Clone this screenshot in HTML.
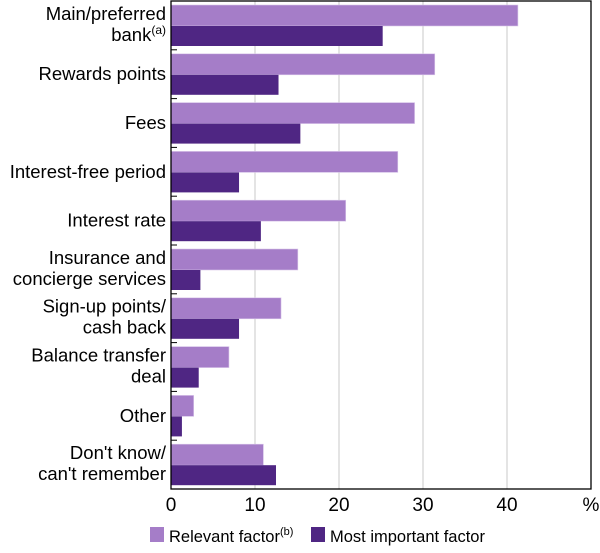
<!DOCTYPE html>
<html><head><meta charset="utf-8"><style>
body{margin:0;background:#fff;width:600px;height:548px;overflow:hidden;font-family:"Liberation Sans",Arial,sans-serif}
svg text{font-family:"Liberation Sans",Arial,sans-serif;fill:#000}
</style></head><body>
<svg id="chart" width="600" height="548"></svg>
<script>
const categories=[["Main/preferred","bank"],["Rewards points"],["Fees"],["Interest-free period"],["Interest rate"],["Insurance and","concierge services"],["Sign-up points/","cash back"],["Balance transfer","deal"],["Other"],["Don't know/","can't remember"]];
const relevant=[41.3,31.4,29.0,27.0,20.8,15.1,13.1,6.9,2.7,11.0];
const mostImportant=[25.2,12.8,15.4,8.1,10.7,3.5,8.1,3.3,1.3,12.5];
const xTicks=[0,10,20,30,40];
const NS="http://www.w3.org/2000/svg";
const svg=document.getElementById('chart');
const L=171,R=591,T=1,B=489,xMax=50;
const x=v=>L+v/xMax*(R-L);
const band=(B-T)/categories.length;
const y=i=>T+i*band;
function mk(tag,attrs){const e=document.createElementNS(NS,tag);for(const k in attrs)e.setAttribute(k,attrs[k]);svg.appendChild(e);return e;}
xTicks.forEach(t=>{if(t>0){const g=mk('line',{x1:x(t),x2:x(t),y1:T,y2:B,stroke:'#c8c8c8','stroke-width':1});

}});
xTicks.forEach(t=>{const tx=mk('text',{x:x(t),y:511,'text-anchor':'middle','font-size':19});tx.textContent=t;

});
const pct=mk('text',{x:R,y:511,'text-anchor':'middle','font-size':19});pct.textContent='%';


categories.forEach((c,i)=>{
 const r1=mk('rect',{x:L,y:y(i)+4,width:x(relevant[i])-L,height:21,fill:'#a57dc8',stroke:'#d9c6ea','stroke-width':0.6});
 
 
 const r2=mk('rect',{x:L,y:y(i)+25,width:x(mostImportant[i])-L,height:20,fill:'#4f2683'});
 
 
 if(i>0){const tk=mk('line',{x1:L,x2:L+6,y1:y(i),y2:y(i),stroke:'#000'});
 
 }
 const cy=y(i)+band/2;
 const lines=c.length;
 c.forEach((s,j)=>{const t=mk('text',{x:166,y:cy+6+(j-(lines-1)/2)*21-(lines>1?1:0),'text-anchor':'end','font-size':18.5});
  t.textContent=s;
  if(i==0&&j==1){const sp=document.createElementNS(NS,'tspan');sp.setAttribute('font-size',12);sp.setAttribute('dy',-7);sp.textContent='(a)';t.appendChild(sp);}
  
  });
});
const frame=mk('rect',{x:L,y:T,width:R-L,height:B-T,fill:'none',stroke:'#000','stroke-width':1.3});


const s1=mk('rect',{x:150,y:527,width:14,height:15,fill:'#a57dc8'});


const l1=mk('text',{x:169,y:542,'font-size':16.5});l1.textContent='Relevant factor';
const sp=document.createElementNS(NS,'tspan');sp.setAttribute('font-size',11);sp.setAttribute('dy',-7);sp.textContent='(b)';l1.appendChild(sp);


const s2=mk('rect',{x:311,y:527,width:14,height:15,fill:'#4f2683'});


const l2=mk('text',{x:330,y:542,'font-size':16.5});l2.textContent='Most important factor';


</script>
</body></html>
